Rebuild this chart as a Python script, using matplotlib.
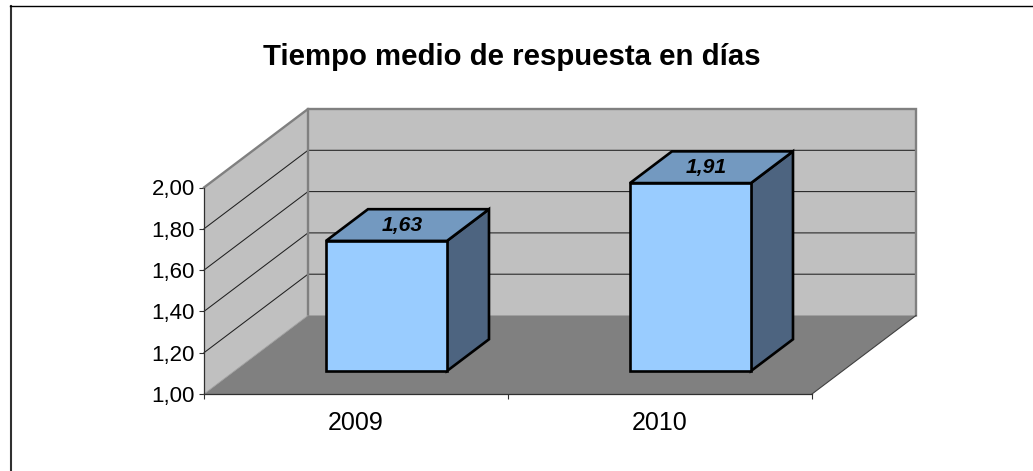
import matplotlib
matplotlib.use("Agg")
import matplotlib.pyplot as plt
from matplotlib.patches import Polygon
from matplotlib.lines import Line2D

plt.rcParams['font.family'] = ['Liberation Sans', 'DejaVu Sans']

title = "Tiempo medio de respuesta en días"
categories = ["2009", "2010"]
values = [1.63, 1.91]
value_labels = ["1,63", "1,91"]
y_ticks = [1.0, 1.2, 1.4, 1.6, 1.8, 2.0]

W, H = 1033, 471
X0, Y0 = 204.0, 394.0      # pixel of the axis origin
PX_PER_CAT = 304.0
PX_PER_UNIT = 206.5
DEPTH_DX, DEPTH_DY = 104.0, 78.5   # pixels from front to back of the floor
BAR_W = 0.398
BAR_D0, BAR_D1 = 0.293, 0.697      # bar extent along the depth axis
YMIN, YMAX = y_ticks[0], y_ticks[-1]
XMAX = len(categories)

fig = plt.figure(figsize=(W / 100, H / 100), dpi=100, facecolor='white')
ax = fig.add_axes([0, 0, 1, 1])
ax.set_xlim(-X0 / PX_PER_CAT, (W - X0) / PX_PER_CAT)
ax.set_ylim(YMIN - (H - Y0) / PX_PER_UNIT, YMIN + Y0 / PX_PER_UNIT)
ax.patch.set_visible(False)


def P(x, y, d=0.0):
    """Oblique projection of (category x, value y, depth d) into data space."""
    return (x + d * DEPTH_DX / PX_PER_CAT, y + d * DEPTH_DY / PX_PER_UNIT)


WALL, FLOOR, EDGE = '#C0C0C0', '#808080', '#808080'

# walls and floor
ax.add_patch(Polygon([P(0, YMIN, 1), P(XMAX, YMIN, 1), P(XMAX, YMAX, 1), P(0, YMAX, 1)],
                     fc=WALL, ec='none', zorder=1))
ax.add_patch(Polygon([P(0, YMIN, 0), P(0, YMIN, 1), P(0, YMAX, 1), P(0, YMAX, 0)],
                     fc=WALL, ec='none', zorder=1))
ax.add_patch(Polygon([P(0, YMIN, 0), P(XMAX, YMIN, 0), P(XMAX, YMIN, 1), P(0, YMIN, 1)],
                     fc=FLOOR, ec='none', zorder=1))

# grid lines
for v in y_ticks[1:-1]:
    pts = [P(0, v, 0), P(0, v, 1), P(XMAX, v, 1)]
    ax.plot(*zip(*pts), color='#202020', lw=0.75, zorder=2, solid_joinstyle='miter')

# wall borders
pts = [P(0, YMAX, 0), P(0, YMAX, 1), P(XMAX, YMAX, 1), P(XMAX, YMIN, 1)]
ax.plot(*zip(*pts), color=EDGE, lw=1.7, zorder=3, solid_joinstyle='miter')
pts = [P(0, YMIN, 1), P(0, YMAX, 1)]
ax.plot(*zip(*pts), color=EDGE, lw=1.7, zorder=3)
pts = [P(XMAX, YMIN, 0), P(XMAX, YMIN, 1)]
ax.plot(*zip(*pts), color='#404040', lw=0.8, zorder=3)
pts = [P(0, YMIN, 0), P(0, YMIN, 1)]
ax.plot(*zip(*pts), color='#A0A0A0', lw=0.6, zorder=3)

# bars
for i, (v, lab) in enumerate(zip(values, value_labels)):
    x0, x1 = i + 0.5 - BAR_W / 2, i + 0.5 + BAR_W / 2
    edge = dict(ec='black', lw=1.9, joinstyle='miter', zorder=4)
    ax.add_patch(Polygon([P(x1, YMIN, BAR_D0), P(x1, YMIN, BAR_D1), P(x1, v, BAR_D1), P(x1, v, BAR_D0)],
                         fc='#4D6480', **edge))
    ax.add_patch(Polygon([P(x0, v, BAR_D0), P(x1, v, BAR_D0), P(x1, v, BAR_D1), P(x0, v, BAR_D1)],
                         fc='#7399C0', **edge))
    ax.add_patch(Polygon([P(x0, YMIN, BAR_D0), P(x1, YMIN, BAR_D0), P(x1, v, BAR_D0), P(x0, v, BAR_D0)],
                         fc='#99CCFF', **edge))
    ax.annotate(lab, xy=P(i + 0.5, v, (BAR_D0 + BAR_D1) / 2), xytext=(-3.6, 0),
                textcoords='offset points', ha='center', va='center',
                fontsize=15.2, fontweight='bold', fontstyle='italic', color='black', zorder=5)

# axes
for s in ('top', 'right'):
    ax.spines[s].set_visible(False)
ax.spines['left'].set_position(('data', 0))
ax.spines['left'].set_bounds(YMIN, YMAX)
ax.spines['bottom'].set_position(('data', YMIN))
ax.spines['bottom'].set_bounds(0, XMAX)
for s in ('left', 'bottom'):
    ax.spines[s].set_linewidth(0.9)
    ax.spines[s].set_color('#303030')
    ax.spines[s].set_zorder(6)

ax.set_yticks(y_ticks)
ax.set_yticklabels([f"{v:.2f}".replace('.', ',') for v in y_ticks], fontsize=16, color='black')
ax.tick_params(axis='y', length=3.6, width=0.8, color='#303030', pad=2.8)
ax.set_xticks(range(XMAX + 1))
ax.set_xticklabels([])
ax.set_xticks([i + 0.5 for i in range(XMAX)], minor=True)
ax.set_xticklabels(categories, minor=True, fontsize=18, color='black')
ax.tick_params(axis='x', which='major', length=3.6, width=0.8, color='#303030')
ax.tick_params(axis='x', which='minor', length=0, pad=12)

# title and frame
fig.text(511.5 / W, 1 - 57 / H, title, ha='center', va='center',
         fontsize=21.2, fontweight='bold', color='black')
fig.add_artist(Line2D([11 / W, 11 / W], [0, 1 - 5.5 / H], color='#303030', lw=1.5,
                      transform=fig.transFigure))
fig.add_artist(Line2D([10 / W, 1], [1 - 5.5 / H, 1 - 5.5 / H], color='black', lw=1.0,
                      transform=fig.transFigure))

fig.savefig('out.png', dpi=100, facecolor='white')
